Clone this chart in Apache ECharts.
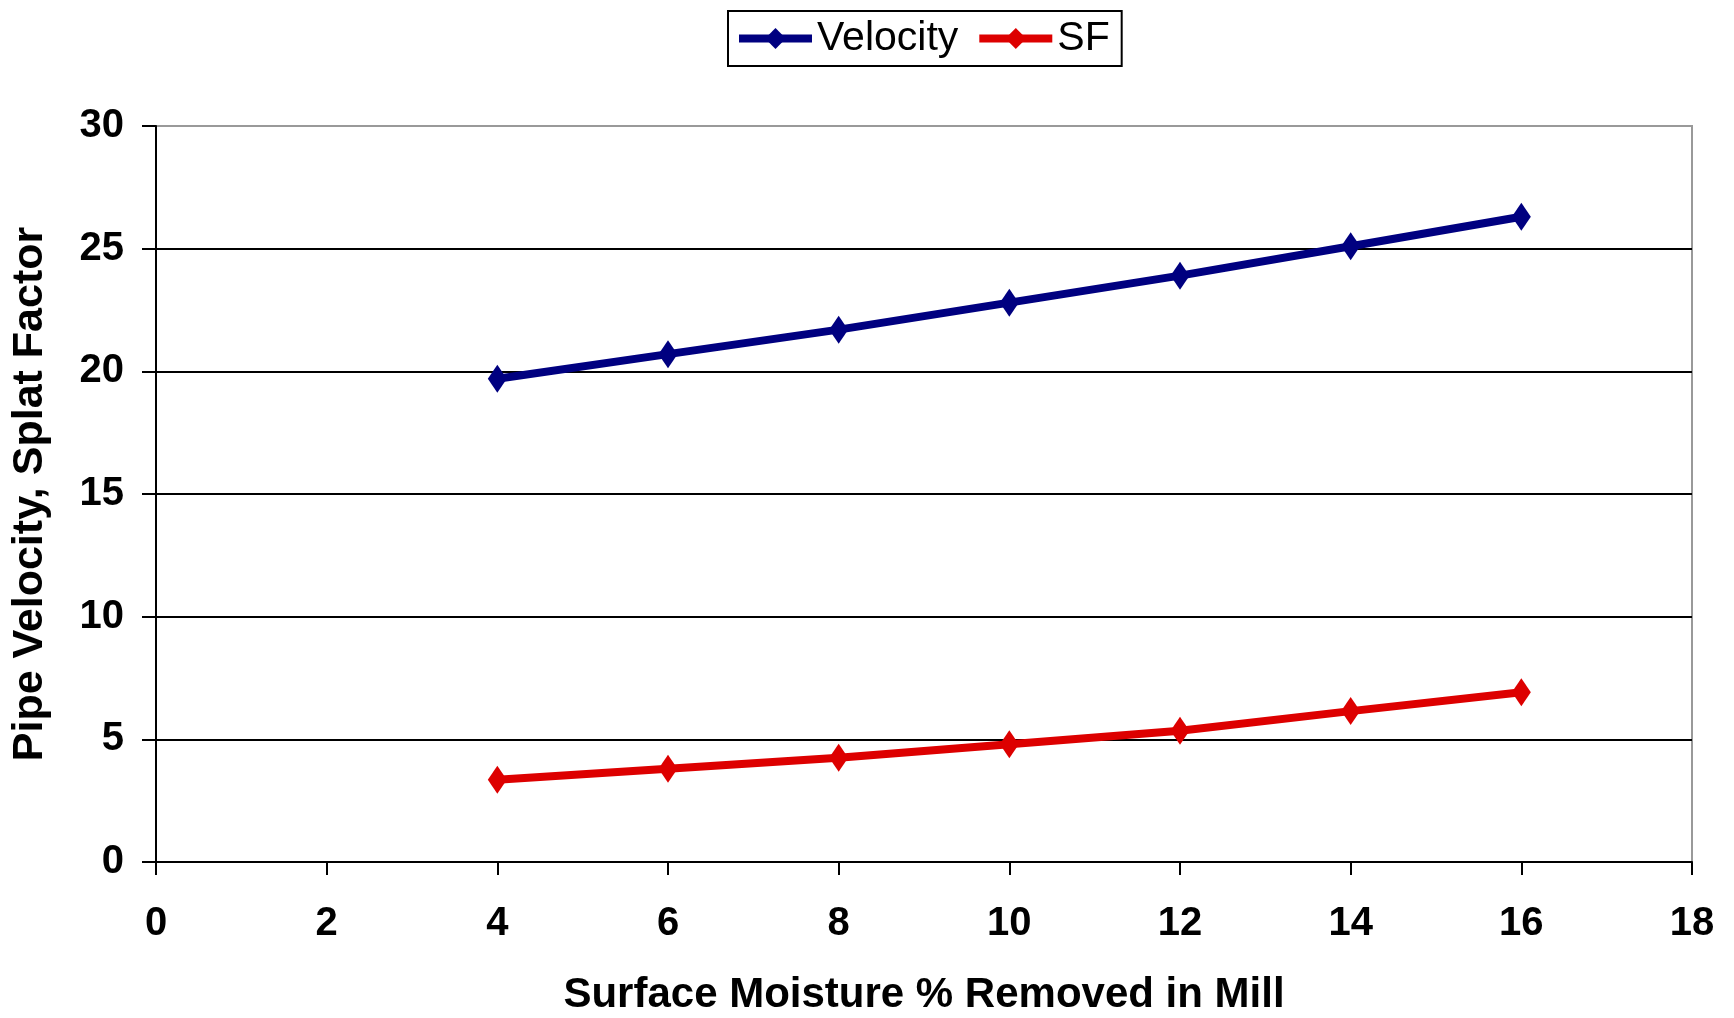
<!DOCTYPE html>
<html>
<head>
<meta charset="utf-8">
<script src="https://cdn.jsdelivr.net/npm/echarts@6/dist/echarts.min.js"></script>
<style>
  html, body { margin: 0; padding: 0; background: #fff; }
  #chart { width: 1734px; height: 1018px; }
</style>
</head>
<body>
<div id="chart"></div>
<script>
let moisture = [4, 6, 8, 10, 12, 14, 16];
let velocity = [19.7, 20.7, 21.7, 22.8, 23.9, 25.1, 26.3];
let splatFactor = [3.35, 3.8, 4.25, 4.8, 5.35, 6.15, 6.92];

let fontFamily = '"Liberation Sans", Arial, sans-serif';

function pairs(xs, ys) {
    let out = [];
    for(let i = 0; i < xs.length; i++) {
        out.push([xs[i], ys[i]]);
    }
    return out;
}

function lineSeries(name, color, values) {
    return {
        name: name,
        type: 'line',
        data: pairs(moisture, values),
        symbol: 'diamond',
        symbolSize: [19, 28],
        lineStyle: { width: 8, color: color },
        itemStyle: { color: color },
        z: 5
    };
}

let chart = echarts.init(document.getElementById('chart'));
chart.setOption({
    animation: false,
    backgroundColor: '#fff',
    legend: {
        left: 728,
        top: 11,
        padding: [7, 12, 7, 7],
        itemWidth: 73,
        itemHeight: 26,
        itemGap: 17,
        borderColor: '#000',
        borderWidth: 2,
        lineStyle: { width: 8 },
        textStyle: { fontFamily: fontFamily, fontSize: 41, color: '#000' }
    },
    grid: {
        left: 156,
        right: 42,
        top: 126,
        bottom: 156,
        outerBoundsMode: 'none',
        containLabel: false,
        show: true,
        borderColor: '#999',
        borderWidth: 2
    },
    xAxis: {
        type: 'value',
        min: 0,
        max: 18,
        interval: 2,
        name: 'Surface Moisture % Removed in Mill',
        nameLocation: 'middle',
        nameGap: 112,
        nameTextStyle: { fontFamily: fontFamily, fontSize: 42, fontWeight: 'bold', color: '#000' },
        axisLine: { show: true, lineStyle: { color: '#000', width: 2 } },
        axisTick: { show: true, length: 13, lineStyle: { color: '#000', width: 2 } },
        axisLabel: { margin: 42, fontFamily: fontFamily, fontSize: 40, fontWeight: 'bold', color: '#000' },
        splitLine: { show: false }
    },
    yAxis: {
        type: 'value',
        min: 0,
        max: 30,
        interval: 5,
        name: 'Pipe Velocity, Splat Factor',
        nameLocation: 'middle',
        nameGap: 104,
        nameTextStyle: { fontFamily: fontFamily, fontSize: 43, fontWeight: 'bold', color: '#000' },
        axisLine: { show: true, lineStyle: { color: '#000', width: 2 } },
        axisTick: { show: true, length: 14, lineStyle: { color: '#000', width: 2 } },
        axisLabel: { margin: 32, fontFamily: fontFamily, fontSize: 40, fontWeight: 'bold', color: '#000' },
        splitLine: { show: true, showMaxLine: false, lineStyle: { color: '#000', width: 2 } }
    },
    series: [
        lineSeries('Velocity', '#000080', velocity),
        lineSeries('SF', '#dd0000', splatFactor)
    ]
});
</script>
</body>
</html>
